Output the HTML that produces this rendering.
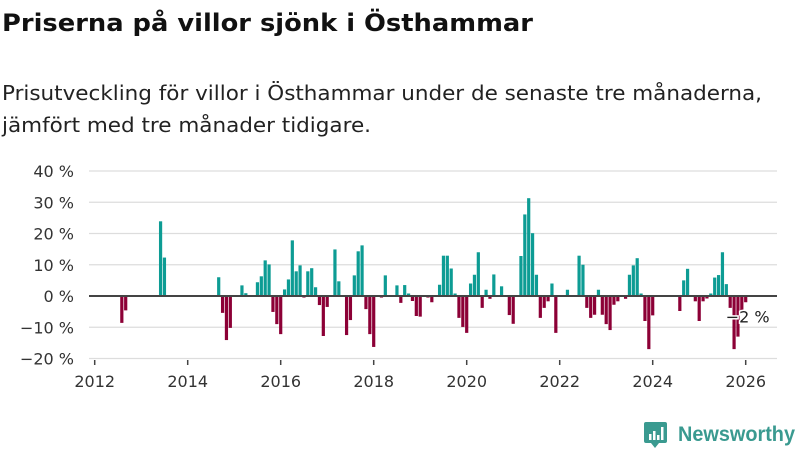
<!DOCTYPE html>
<html><head><meta charset="utf-8"><style>
body{margin:0;width:800px;height:450px;background:#fff;font-family:"DejaVu Sans",sans-serif;overflow:hidden;position:relative}
svg{position:absolute;left:0;top:0}
</style></head><body>
<svg width="800" height="450" font-family="DejaVu Sans, sans-serif">
<text x="2" y="31" font-size="24" font-weight="bold" fill="#111" textLength="531" lengthAdjust="spacingAndGlyphs">Priserna på villor sjönk i Östhammar</text>
<text x="2" y="100" font-size="20" fill="#222" textLength="760" lengthAdjust="spacingAndGlyphs">Prisutveckling för villor i Östhammar under de senaste tre månaderna,</text>
<text x="2" y="132" font-size="20" fill="#222" textLength="369" lengthAdjust="spacingAndGlyphs">jämfört med tre månader tidigare.</text>
<g id="grid"></g>
<g id="bars"></g>
<g id="axes"></g>
<g>
<path d="M646 422 h19 a2 2 0 0 1 2 2 v17 a2 2 0 0 1 -2 2 h-6 l-4 5 l-4 -5 h-5 a2 2 0 0 1 -2 -2 v-17 a2 2 0 0 1 2 -2z" fill="#3a9a90"/>
<rect x="649" y="434" width="2.5" height="6" fill="#fff"/><rect x="653" y="431" width="2.5" height="9" fill="#fff"/><rect x="657" y="435" width="2.5" height="5" fill="#fff"/><rect x="661" y="427" width="2.5" height="13" fill="#fff"/>
<text x="678" y="441" font-size="21" font-weight="bold" fill="#3a9a90" textLength="117" lengthAdjust="spacingAndGlyphs" font-family="Liberation Sans, sans-serif">Newsworthy</text>
</g>
</svg>
<script>
const monthIndex=[7,8,17,18,32,33,34,35,38,39,42,43,44,45,46,47,48,49,50,51,52,53,54,55,56,57,58,59,60,62,63,65,66,67,68,69,70,71,72,74,75,78,79,80,81,82,83,84,86,87,89,90,91,92,93,94,95,96,97,98,99,100,101,102,103,105,107,108,110,111,112,113,114,115,116,117,118,119,122,125,126,127,128,129,130,131,132,133,134,135,137,138,139,140,141,142,143,144,151,152,153,155,156,157,158,159,160,161,162,163,164,165,166,167,168];
const values=[-8.6,-4.6,23.9,12.3,6.0,-5.4,-14.1,-10.2,3.4,0.9,4.4,6.3,11.4,10.1,-5.1,-9,-12.2,2.1,5.3,17.8,7.9,9.8,-0.5,7.9,8.9,2.8,-2.9,-12.8,-3.5,14.9,4.7,-12.5,-7.7,6.6,14.3,16.2,-4.2,-12.2,-16.3,-0.5,6.6,3.4,-2.2,3.5,0.8,-1.6,-6.4,-6.6,-0.5,-2,3.6,12.9,12.9,8.8,0.8,-7,-9.9,-11.8,4,6.8,14,-3.8,2,-0.9,6.9,3.1,-6.1,-8.9,12.8,26.1,31.3,20.1,6.8,-7,-3.8,-1.7,4,-11.8,2,12.9,10,-3.8,-7,-6,2,-6,-9,-10.9,-2.8,-1.7,-0.9,6.8,9.8,12.1,0.8,-8,-17,-6.2,-4.8,5,8.7,-1.7,-8,-1.7,-0.8,0.8,5.9,6.7,14,3.8,-3.8,-17,-13,-5,-2];
const yTicks=[40,30,20,10,0,-10,-20];
const yTickLabels=["40 %","30 %","20 %","10 %","0 %","−10 %","−20 %"];
const xYears=[2012,2014,2016,2018,2020,2022,2024,2026];
const lastLabel="−2 %";
const NS="http://www.w3.org/2000/svg";
function y(v){return 296-v*3.125;}
function x(m){return 94.7+m*3.875;}
function mk(t,a,p){const e=document.createElementNS(NS,t);for(const k in a)e.setAttribute(k,a[k]);p.appendChild(e);return e;}
const grid=document.getElementById('grid'),bars=document.getElementById('bars'),axes=document.getElementById('axes');
yTicks.forEach((t,i)=>{
 if(t!==0){const l=mk('line',{x1:89,x2:777,y1:y(t),y2:y(t),stroke:'#ddd','stroke-width':1.2},grid);
 
 }
 const tx=mk('text',{x:74,y:y(t)+6,'text-anchor':'end','font-size':16,fill:'#333'},axes);
 tx.textContent=yTickLabels[i];
 
 
});
values.forEach((v,i)=>{
 const r=mk('rect',{x:x(monthIndex[i])-1.6,width:3.2,y:Math.min(y(v),296),height:Math.abs(y(v)-296),fill:v>=0?'#0d9c94':'#8c0036'},bars);
 
 
});
const zl=mk('line',{x1:89,x2:777,y1:296,y2:296,stroke:'#444','stroke-width':2},axes);


xYears.forEach(yr=>{
 const xx=x((yr-2012)*12);
 const tk=mk('line',{x1:xx,x2:xx,y1:360,y2:365,stroke:'#444','stroke-width':1.5},axes);
 
 
 const tx=mk('text',{x:xx,y:387,'text-anchor':'middle','font-size':16,fill:'#333'},axes);
 tx.textContent=yr;
 
 
});
const li=values.length-1;
const lbl=mk('text',{x:x(monthIndex[li])+2,y:y(-8.5),'text-anchor':'middle','font-size':16,fill:'#222',stroke:'#fff','stroke-width':3,'paint-order':'stroke'},axes);
lbl.textContent=lastLabel;


</script>
</body></html>
